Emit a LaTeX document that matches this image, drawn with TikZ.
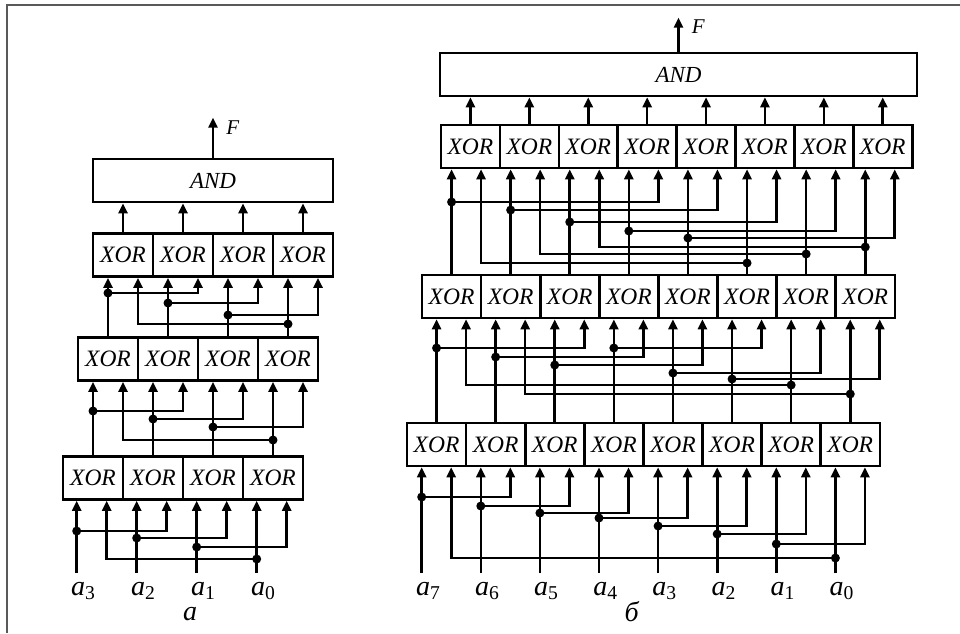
\documentclass[tikz,border=0pt]{standalone}
\usepackage{fontspec}
\setmainfont{Liberation Serif}
\usetikzlibrary{arrows.meta, calc, positioning}

\tikzset{
  gate/.style={draw, minimum width=#1, minimum height=43pt, inner sep=0pt,
    font=\fontsize{23.5}{26}\selectfont\itshape},
  andbox/.style={draw, minimum height=43pt, inner sep=0pt,
    font=\fontsize{23}{26}\selectfont\itshape},
  lab/.style={inner sep=0pt, font=\fontsize{28}{30}\selectfont},
  flab/.style={inner sep=0pt, anchor=west, font=\fontsize{21}{24}\selectfont\itshape},
  dot/.style={fill},
}

\begin{document}
\begin{tikzpicture}[x=1pt,y=-1pt,line width=2.6pt,>={Triangle[length=10pt,width=9pt]}]
  \useasboundingbox (0,0) rectangle (960,633);
  \draw[line width=1.3pt,black!65] (7,633) -- (7,5) -- (960,5);

  % ---------- a ----------
  \foreach \k in {0,...,3} {
    \node[gate=60pt] (A1-\k) at (93+60*\k,478) {XOR};
    \node[gate=60pt] (A2-\k) at (108+60*\k,359) {XOR};
    \node[gate=60pt] (A3-\k) at (123+60*\k,255) {XOR};
  }
  \node[andbox, minimum width=240pt] (AA) at (213,180.5) {AND};

  \foreach \k/\i in {0/3,1/2,2/1,3/0} {
    \coordinate (A1-\k-l) at ($(A1-\k.south west)+(15,0)$);
    \coordinate (A1-\k-r) at ($(A1-\k.south west)+(45,0)$);
    \coordinate (ia\i) at (A1-\k-l |- 0,573);
    \node[lab, anchor=base west] at ($(ia\i)+(-7,22)$) {\textit{a}\textsubscript{\i}};
    \draw[->] (ia\i) -- (A1-\k-l);
  }
  \foreach \r/\s in {1/2,2/3}
    \foreach \k in {0,...,3} {
      \coordinate (A\s-\k-l) at (A\r-\k.north |- A\s-\k.south);
      \coordinate (A\s-\k-r) at ($(A\s-\k-l)+(30,0)$);
      \draw[->] (A\r-\k.north) -- (A\s-\k-l);
    }
  \foreach \s/\k/\j/\y in {1/0/1/531,1/1/2/538,1/2/3/547,1/3/0/559,
                           2/0/1/411,2/1/2/419,2/2/3/427,2/3/0/440,
                           3/0/1/293,3/1/2/303,3/2/3/315,3/3/0/324} {
    \draw[->] (A\s-\k-l |- 0,\y) -| (A\s-\j-r);
    \fill[dot] (A\s-\k-l |- 0,\y) circle (4.5pt);
  }
  \foreach \k in {0,...,3}
    \draw[->] (A3-\k.north) -- (A3-\k.north |- AA.south);
  \coordinate (Fa) at ($(AA.north)+(0,-40)$);
  \draw[->] (AA.north) -- (Fa);
  \node[flab] at ($(Fa)+(12,10)$) {F};
  \node[lab] (capa) at (190,614) {\textit{а}};

  % ---------- b ----------
  \foreach \k in {0,...,7} {
    \node[gate=59.1pt] (B1-\k) at (436.55+59.1*\k,444.5) {XOR};
    \node[gate=59.1pt] (B2-\k) at (451.55+59.1*\k,296.5) {XOR};
    \node[gate=58.9pt] (B3-\k) at (470.45+58.9*\k,146.5) {XOR};
  }
  \node[andbox, minimum width=477pt] (BB) at (678.5,74.5) {AND};

  \foreach \k/\i in {0/7,1/6,2/5,3/4,4/3,5/2,6/1,7/0} {
    \coordinate (B1-\k-l) at ($(B1-\k.south west)+(16,0)$);
    \coordinate (B1-\k-r) at ($(B1-\k.south west)+(45.5,0)$);
    \coordinate (ib\i) at (B1-\k-l |- 0,573);
    \node[lab, anchor=base west] at ($(ib\i)+(-7,22)$) {\textit{a}\textsubscript{\i}};
    \draw[->] (ib\i) -- (B1-\k-l);
  }
  \foreach \r/\s in {1/2,2/3}
    \foreach \k in {0,...,7} {
      \coordinate (B\s-\k-l) at (B\r-\k.north |- B\s-\k.south);
      \coordinate (B\s-\k-r) at ($(B\s-\k-l)+(29.5,0)$);
      \draw[->] (B\r-\k.north) -- (B\s-\k-l);
    }
  \foreach \s/\k/\j/\y in {1/0/1/497,1/1/2/506,1/2/3/513,1/3/4/518,
                           1/4/5/526,1/5/6/534,1/6/7/544,1/7/0/558,
                           2/0/2/348,2/1/3/357,2/2/4/365,2/3/5/348,
                           2/4/6/373,2/5/7/379,2/6/0/385,2/7/1/394,
                           3/0/3/202,3/1/4/210,3/2/5/222,3/3/6/231,
                           3/4/7/238,3/5/0/263,3/6/1/254,3/7/2/247} {
    \draw[->] (B\s-\k-l |- 0,\y) -| (B\s-\j-r);
    \fill[dot] (B\s-\k-l |- 0,\y) circle (4.5pt);
  }
  \foreach \k in {0,...,7}
    \draw[->] (B3-\k.north) -- (B3-\k.north |- BB.south);
  \coordinate (Fb) at ($(BB.north)+(0,-34)$);
  \draw[->] (BB.north) -- (Fb);
  \node[flab] at ($(Fb)+(12,9)$) {F};
  \node[lab] (capb) at (632,612) {\textit{б}};
\end{tikzpicture}
\end{document}
